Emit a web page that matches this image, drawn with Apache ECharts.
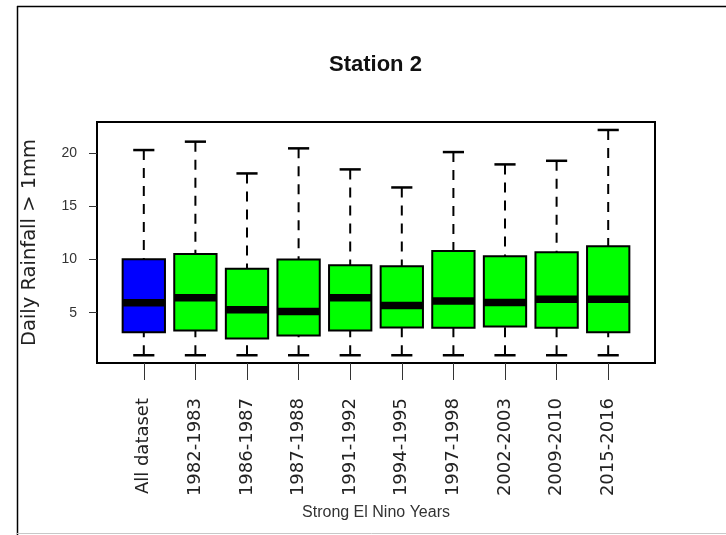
<!DOCTYPE html>
<html>
<head>
<meta charset="utf-8">
<script src="https://cdn.jsdelivr.net/npm/echarts@6/dist/echarts.min.js"></script>
<style>
  html, body { margin: 0; padding: 0; background: #fff; }
  #chart { width: 726px; height: 535px; }
</style>
</head>
<body>
<div id="chart"></div>
<script>
// boxplot stats, one entry per box
var categories = ["All dataset", "1982-1983", "1986-1987", "1987-1988", "1991-1992",
  "1994-1995", "1997-1998", "2002-2003", "2009-2010", "2015-2016"];
var lowWhisker = [1.0, 1.0, 1.0, 1.0, 1.0, 1.0, 1.0, 1.0, 1.0, 1.0];
var lowerQuartile = [3.17, 3.33, 2.58, 2.86, 3.33, 3.61, 3.58, 3.71, 3.58, 3.17];
var medians = [5.94, 6.41, 5.28, 5.12, 6.41, 5.69, 6.10, 5.97, 6.28, 6.28];
var upperQuartile = [10.03, 10.53, 9.15, 10.0, 9.46, 9.37, 10.81, 10.31, 10.69, 11.25];
var highWhisker = [20.31, 21.1, 18.11, 20.47, 18.49, 16.79, 20.12, 18.96, 19.3, 22.2];
var yTicks = [5, 10, 15, 20];

var boxData = categories.map(function (c, i) {
  return [i, lowWhisker[i], lowerQuartile[i], medians[i], upperQuartile[i], highWhisker[i]];
});

function renderBox(params, api) {
  var x = api.value(0);
  var low = api.coord([x, api.value(1)]);
  var q1 = api.coord([x, api.value(2)]);
  var med = api.coord([x, api.value(3)]);
  var q3 = api.coord([x, api.value(4)]);
  var high = api.coord([x, api.value(5)]);
  var w = api.size([1, 0])[0] * 0.82;
  var cx = q1[0];
  var fill = params.dataIndex === 0 ? "#0000ff" : "#00ff00";
  var dashed = { stroke: "#000", lineWidth: 2, lineDash: [10, 8] };
  var cap = { stroke: "#000", lineWidth: 2.5 };
  return {
    type: "group",
    children: [
      { type: "line", shape: { x1: cx, y1: high[1], x2: cx, y2: q3[1] }, style: dashed },
      { type: "line", shape: { x1: cx, y1: low[1], x2: cx, y2: q1[1] }, style: dashed },
      { type: "line", shape: { x1: cx - w / 4, y1: high[1], x2: cx + w / 4, y2: high[1] }, style: cap },
      { type: "line", shape: { x1: cx - w / 4, y1: low[1], x2: cx + w / 4, y2: low[1] }, style: cap },
      {
        type: "rect",
        shape: { x: cx - w / 2, y: q3[1], width: w, height: q1[1] - q3[1] },
        style: { fill: fill, stroke: "#000", lineWidth: 2 }
      },
      { type: "line", shape: { x1: cx - w / 2, y1: med[1], x2: cx + w / 2, y2: med[1] }, style: { stroke: "#000", lineWidth: 7.5 } }
    ]
  };
}

var chart = echarts.init(document.getElementById("chart"));
chart.setOption({
  backgroundColor: "#fff",
  animation: false,
  title: {
    text: "Station 2",
    left: 329,
    top: 54,
    padding: 0,
    textStyle: { fontFamily: "Liberation Sans, Arial", fontWeight: "bold", fontSize: 22, color: "#111" }
  },
  graphic: [
    { type: "line", shape: { x1: 17.5, y1: 6, x2: 17.5, y2: 535 }, style: { stroke: "#000", lineWidth: 1.5 } },
    { type: "line", shape: { x1: 17, y1: 6.5, x2: 726, y2: 6.5 }, style: { stroke: "#000", lineWidth: 1.5 } },
    { type: "line", shape: { x1: 17, y1: 533.5, x2: 726, y2: 533.5 }, style: { stroke: "#c8c8c8", lineWidth: 1 } }
  ],
  grid: [
    { left: 97, right: 71, top: 122, bottom: 172, show: true, borderColor: "#000", borderWidth: 2, backgroundColor: "transparent" },
    { left: 118, right: 92, top: 122, bottom: 172 }
  ],
  xAxis: [
    { gridIndex: 0, type: "value", show: false, min: 0, max: 1 },
    {
      gridIndex: 1,
      type: "category",
      data: categories,
      name: "Strong El Nino Years",
      nameLocation: "middle",
      nameGap: 150,
      nameTextStyle: { fontFamily: "Liberation Sans, Arial", fontSize: 16, color: "#333", verticalAlign: "middle" },
      axisLine: { show: false },
      axisTick: { show: true, alignWithLabel: true, length: 17, lineStyle: { color: "#333", width: 1 } },
      axisLabel: { rotate: 90, margin: 35, fontFamily: "DejaVu Sans", fontSize: 18, color: "#222", interval: 0 },
      splitLine: { show: false }
    }
  ],
  yAxis: [
    { gridIndex: 0, type: "value", show: false, min: 0, max: 1 },
    {
      gridIndex: 1,
      type: "value",
      min: 0.27,
      max: 22.95,
      offset: 21,
      name: "Daily Rainfall > 1mm",
      nameLocation: "middle",
      nameGap: 67,
      nameTextStyle: { fontFamily: "DejaVu Sans", fontSize: 19.5, color: "#222", verticalAlign: "middle" },
      axisLine: { show: false },
      axisTick: { show: true, length: 8, customValues: yTicks, lineStyle: { color: "#333", width: 1 } },
      axisLabel: { margin: 20, customValues: yTicks, fontFamily: "Liberation Sans, Arial", fontSize: 14, color: "#333" },
      splitLine: { show: false }
    }
  ],
  series: [
    {
      type: "custom",
      xAxisIndex: 1,
      yAxisIndex: 1,
      renderItem: renderBox,
      encode: { x: 0, y: [1, 2, 3, 4, 5] },
      data: boxData
    }
  ]
});
</script>
</body>
</html>
